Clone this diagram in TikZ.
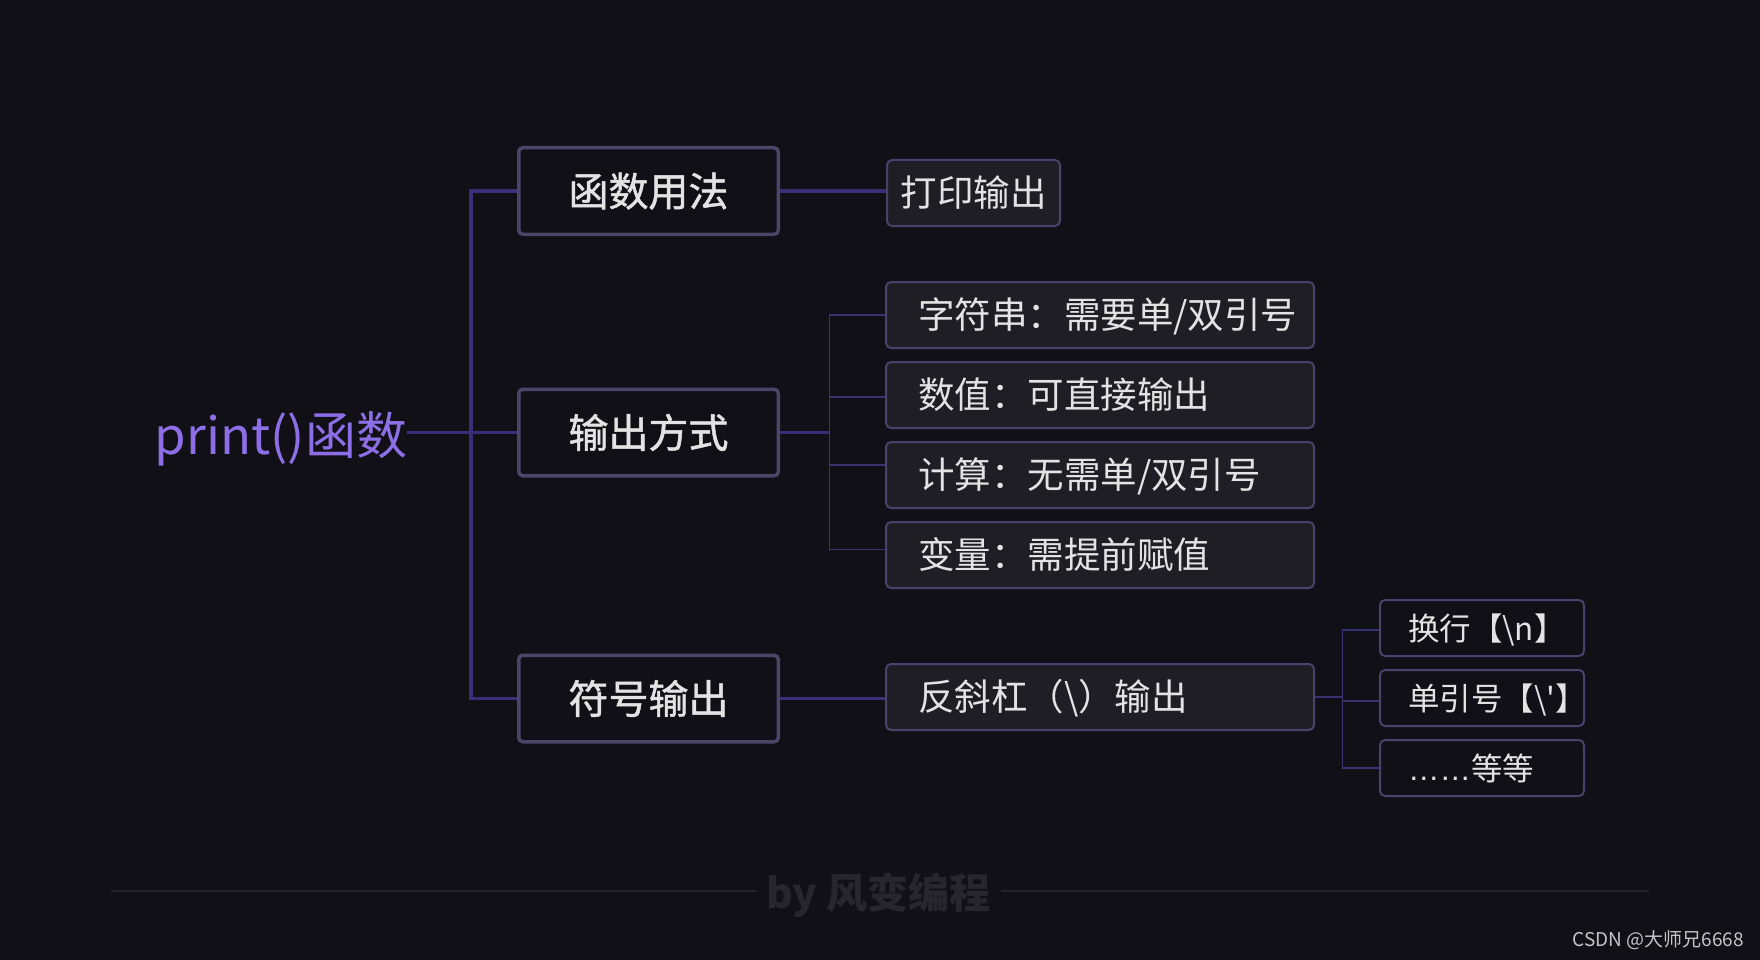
\documentclass[tikz,border=0pt]{standalone}
\usepackage{fontspec}
\newfontfamily\cjk{Noto Sans CJK SC}
\newfontfamily\cjkmed[FakeBold=1.2]{Noto Sans CJK SC}
\newfontfamily\lat{Liberation Sans}
\definecolor{bg}{HTML}{111016}
\definecolor{lonebd}{HTML}{4B4569}
\definecolor{ltwobd}{HTML}{48426C}
\definecolor{ltwofill}{HTML}{1F1E25}
\definecolor{fg}{HTML}{E3E3E3}
\definecolor{accent}{HTML}{8C6FE6}
\definecolor{conn}{HTML}{3B2E78}
\definecolor{thinconn}{HTML}{3A3170}
\definecolor{footfg}{HTML}{27262C}
\definecolor{footline}{HTML}{24232A}
\definecolor{csdnfg}{HTML}{C4C4C8}
\begin{document}
\begin{tikzpicture}[x=1pt,y=-1pt,
  lonebox/.style={draw=lonebd, line width=3.5pt, rounded corners=4pt, fill=bg,
    minimum width=259.5pt, minimum height=86.5pt, inner sep=0pt, text=fg,
    font=\cjkmed\fontsize{40}{40}\selectfont, text height=30.4pt, text depth=0pt},
  ltwobox/.style={draw=ltwobd, line width=2pt, rounded corners=5pt, fill=ltwofill,
    minimum height=66pt, inner sep=0pt, text=fg,
    font=\cjk\fontsize{36.5}{36.5}\selectfont, text height=27.7pt, text depth=0pt},
  lthreebox/.style={draw=ltwobd, line width=2pt, rounded corners=5pt, fill=bg,
    minimum width=204pt, minimum height=56pt, inner sep=0pt, text=fg,
    font=\cjk\fontsize{31.5}{31.5}\selectfont, text height=24pt, text depth=0pt},
  thick conn/.style={draw=conn, line width=3.5pt},
  thin conn/.style={draw=thinconn, line width=1.5pt},
]
\fill[bg] (0,0) rectangle (1760,960);
\useasboundingbox (0,0) rectangle (1760,960);

% root
\node[text=accent, font=\cjk\fontsize{51}{51}\selectfont, text height=38.8pt, text depth=0pt, inner sep=0pt]
  (root) at (281,435) {print()函数};

% level 1
\node[lonebox] (fn)  at (648.5,191)   {函数用法};
\node[lonebox] (out) at (648.5,432.5) {输出方式};
\node[lonebox] (sym) at (648.5,698.5) {符号输出};

% level 2
\node[ltwobox, minimum width=173pt] (prt) at (973.5,193) {打印输出};
\node[ltwobox, minimum width=428pt] (sa) at (1100,315) {\makebox[428pt][l]{\hspace{32pt}字符串：需要单/双引号}};
\node[ltwobox, minimum width=428pt] (sb) at (1100,395) {\makebox[428pt][l]{\hspace{32pt}数值：可直接输出}};
\node[ltwobox, minimum width=428pt] (sc) at (1100,475) {\makebox[428pt][l]{\hspace{32pt}计算：无需单/双引号}};
\node[ltwobox, minimum width=428pt] (sd) at (1100,555) {\makebox[428pt][l]{\hspace{32pt}变量：需提前赋值}};
\node[ltwobox, minimum width=428pt] (bs) at (1100,697) {\makebox[428pt][l]{\hspace{32pt}反斜杠（\textbackslash）输出}};

% level 3
\node[lthreebox] (na) at (1482,628) {\makebox[204pt][l]{\hspace{28pt}换行【\textbackslash n】}};
\node[lthreebox] (nb) at (1482,698) {\makebox[204pt][l]{\hspace{28pt}单引号【\textbackslash'】}};
\node[lthreebox] (nc) at (1482,768) {\makebox[204pt][l]{\hspace{28pt}{\lat ……}等等}};

% trunk coordinates
\coordinate (trunk) at (471,0);
\coordinate (brA) at (829.5,0);
\coordinate (brB) at (1342.5,0);

% connectors level 0 -> 1
\draw[thick conn] (out.west -| root.east) -- (out.west);
\draw[thick conn] (fn.west) -- (fn.west -| trunk) -- (sym.west -| trunk) -- (sym.west);

% level 1 -> 2
\draw[thick conn] (fn.east) -- (fn.east -| prt.west);
\draw[thick conn] (out.east) -- (out.east -| brA);
\draw[thin conn] (sa.west) -- (sa.west -| brA) -- ([yshift=5.5pt]sd.west -| brA) -- ([yshift=5.5pt]sd.west);
\draw[thin conn] ([yshift=-2pt]sb.west -| brA) -- ([yshift=-2pt]sb.west);
\draw[thin conn] ([yshift=10pt]sc.west -| brA) -- ([yshift=10pt]sc.west);
\draw[thick conn] (sym.east) -- (sym.east -| bs.west);

% level 2 -> 3
\draw[thin conn] (bs.east) -- (bs.east -| brB);
\draw[thin conn] ([yshift=-2pt]na.west) -- ([yshift=-2pt]na.west -| brB) -- (nc.west -| brB) -- (nc.west);
\draw[thin conn] ([yshift=-3pt]nb.west -| brB) -- ([yshift=-3pt]nb.west);

% footer
\node[text=footfg, font=\cjk\bfseries\fontsize{41}{41}\selectfont, text height=31pt, text depth=0pt, inner ysep=0pt, inner xsep=10pt]
  (foot) at (878.5,893) {by 风变编程};
\coordinate (fl) at (111,891);
\coordinate (fr) at (1649,891);
\draw[footline, line width=2pt] (fl) -- (fl -| foot.west);
\draw[footline, line width=2pt] (fl -| foot.east) -- (fr);

% watermark
\node[text=csdnfg, font=\cjk\fontsize{19}{19}\selectfont, anchor=east, inner sep=0pt]
  (csdn) at (1744,940) {CSDN @大师兄6668};
\end{tikzpicture}
\end{document}
